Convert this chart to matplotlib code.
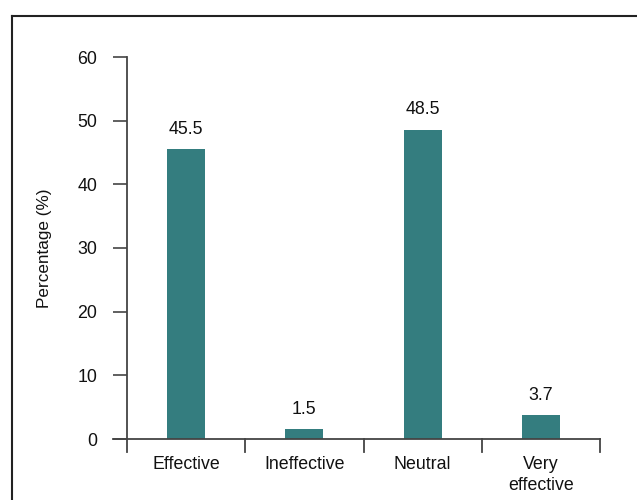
import matplotlib
matplotlib.use('Agg')
import matplotlib.pyplot as plt
from matplotlib.lines import Line2D

categories = ["Effective", "Ineffective", "Neutral", "Very\neffective"]
percentages = [45.5, 1.5, 48.5, 3.7]
yticks = [0, 10, 20, 30, 40, 50, 60]

plt.rcParams['font.family'] = ['Liberation Sans', 'DejaVu Sans']
plt.rcParams['font.size'] = 12.8

bar_color = "#347d7f"
axis_color = "#444444"

fig = plt.figure(figsize=(6.37, 5.0), dpi=100)
ax = fig.add_axes([127 / 637, 61 / 500, 473 / 637, 382 / 500])

x = list(range(len(categories)))
bars = ax.bar(x, percentages, width=0.32, color=bar_color)

# value labels above the bars
for b, v in zip(bars, percentages):
    ax.annotate("%.1f" % v, (b.get_x() + b.get_width() / 2, v),
                xytext=(0, 8.5), textcoords="offset points",
                ha="center", va="bottom", color="#111111")

ax.set_xlim(-0.5, len(categories) - 0.5)
ax.set_ylim(0, 60)
ax.set_yticks(yticks)
ax.set_xticks(x)
ax.set_xticklabels(categories, linespacing=1.3)

for s in ax.spines.values():
    s.set_visible(False)

ax.tick_params(axis="y", length=10, width=1.2, color=axis_color, pad=11.5,
               labelcolor="#111111")
ax.tick_params(axis="x", length=0, pad=12.5, labelcolor="#111111")

# axis lines that run past the plot area, plus category separators
ax.plot([-0.03, 1], [0, 0], transform=ax.transAxes, color=axis_color,
        lw=1.3, clip_on=False)
ax.plot([0, 0], [-0.034, 1], transform=ax.transAxes, color=axis_color,
        lw=1.3, clip_on=False)
for i in range(1, len(categories) + 1):
    xs = i / len(categories)
    ax.plot([xs, xs], [-0.034, 0], transform=ax.transAxes, color=axis_color,
            lw=1.3, clip_on=False)

ax.set_ylabel("Percentage (%)", fontsize=12.3, labelpad=18.5, color="#111111")

# outer frame (left and top edges)
fig.add_artist(Line2D([11.5 / 637, 11.5 / 637], [0, 1 - 15.5 / 500],
                      transform=fig.transFigure, color="#222222", lw=1.5))
fig.add_artist(Line2D([11.5 / 637, 1], [1 - 15.5 / 500, 1 - 15.5 / 500],
                      transform=fig.transFigure, color="#222222", lw=1.5))

fig.savefig("out.png", dpi=100)
